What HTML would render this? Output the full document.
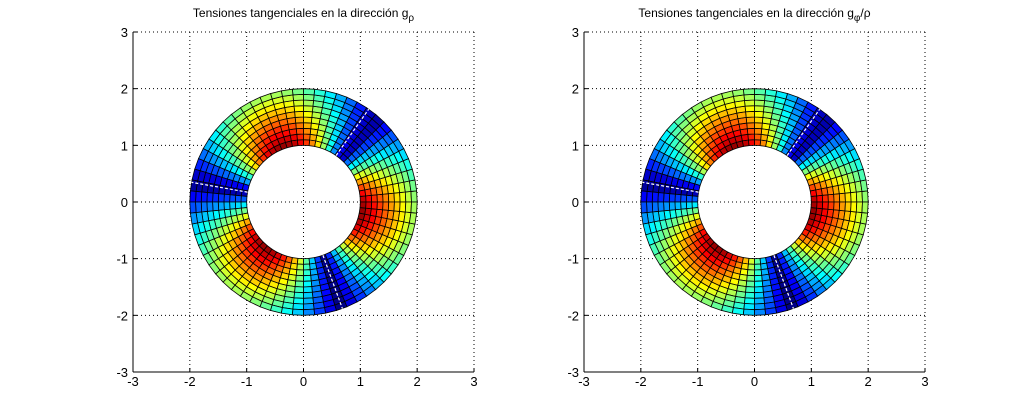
<!DOCTYPE html>
<html><head><meta charset="utf-8"><style>
body{margin:0;background:#fff;}
svg{display:block;font-family:"Liberation Sans",sans-serif;}
</style></head><body>
<svg id="s" width="1022" height="418" xmlns="http://www.w3.org/2000/svg"></svg>
<script>
const s=document.getElementById('s');
let h='<rect width="1022" height="418" fill="#fff"/>';
function jet(t){t=Math.max(0,Math.min(1,t));
 const f=x=>Math.max(0,Math.min(1,x));
 const r=f(1.5-Math.abs(4*t-3)),g=f(1.5-Math.abs(4*t-2)),b=f(1.5-Math.abs(4*t-1));
 return `rgb(${Math.round(r*255)},${Math.round(g*255)},${Math.round(b*255)})`;}
function axes(x0,title,sub){
 const x1=x0+341,y0=32,y1=372,sx=(x1-x0)/6,sy=(y1-y0)/6;
 const cx=x0+3*sx,cy=y0+3*sy;
 const X=u=>x0+(u+3)*sx,Y=v=>y1-(v+3)*sy;
 for(let i=-3;i<=3;i++){
  h+=`<line x1="${X(i)}" y1="${y0}" x2="${X(i)}" y2="${y1}" stroke="#000" stroke-width="1" stroke-dasharray="1,3"/>`;
  h+=`<line x1="${x0}" y1="${Y(i)}" x2="${x1}" y2="${Y(i)}" stroke="#000" stroke-width="1" stroke-dasharray="1,3"/>`;
 }
 const NA=64,NR=10;
 for(let i=0;i<NA;i++){const a0=i*2*Math.PI/NA,a1=(i+1)*2*Math.PI/NA,am=(a0+a1)/2;
  const c=-Math.cos(3*(am-170*Math.PI/180));
  const u=(c+1)/2;
  for(let j=0;j<NR;j++){const r0=1+j/NR,r1=1+(j+1)/NR,rm=(r0+r1)/2;
   const t=Math.pow(u,0.45)*(1-0.48*(rm-1));
   const p=(r,a)=>`${(X(r*Math.cos(a))).toFixed(2)},${(Y(r*Math.sin(a))).toFixed(2)}`;
   h+=`<polygon points="${p(r0,a0)} ${p(r1,a0)} ${p(r1,a1)} ${p(r0,a1)}" fill="${jet(t)}" stroke="#000" stroke-width="0.8"/>`;
  }}
 [170,55,-70].forEach(d=>{const a=d*Math.PI/180;
  h+=`<line x1="${X(Math.cos(a))}" y1="${Y(Math.sin(a))}" x2="${X(2*Math.cos(a))}" y2="${Y(2*Math.sin(a))}" stroke="#fff" stroke-width="1.2" stroke-dasharray="3,2"/>`;});
 h+=`<line x1="${x0}" y1="${y0}" x2="${x0}" y2="${y1}" stroke="#000"/>`;
 h+=`<line x1="${x0}" y1="${y1}" x2="${x1}" y2="${y1}" stroke="#000"/>`;
 for(let i=-3;i<=3;i++){
  h+=`<line x1="${X(i)}" y1="${y1}" x2="${X(i)}" y2="${y1-4}" stroke="#000"/>`;
  h+=`<line x1="${x0}" y1="${Y(i)}" x2="${x0+4}" y2="${Y(i)}" stroke="#000"/>`;
  h+=`<text x="${X(i)}" y="${y1+14}" font-size="13" text-anchor="middle">${i}</text>`;
  h+=`<text x="${x0-5}" y="${Y(i)+5}" font-size="13" text-anchor="end">${i}</text>`;
 }
 h+=`<text x="${cx}" y="17" font-size="12" text-anchor="middle">Tensiones tangenciales en la dirección g<tspan font-size="10" dy="4">${sub}</tspan>${title}</text>`;
}
axes(133,'','ρ');
axes(584,'<tspan dy="-4">/ρ</tspan>','φ');
s.innerHTML=h;
</script>
</body></html>
